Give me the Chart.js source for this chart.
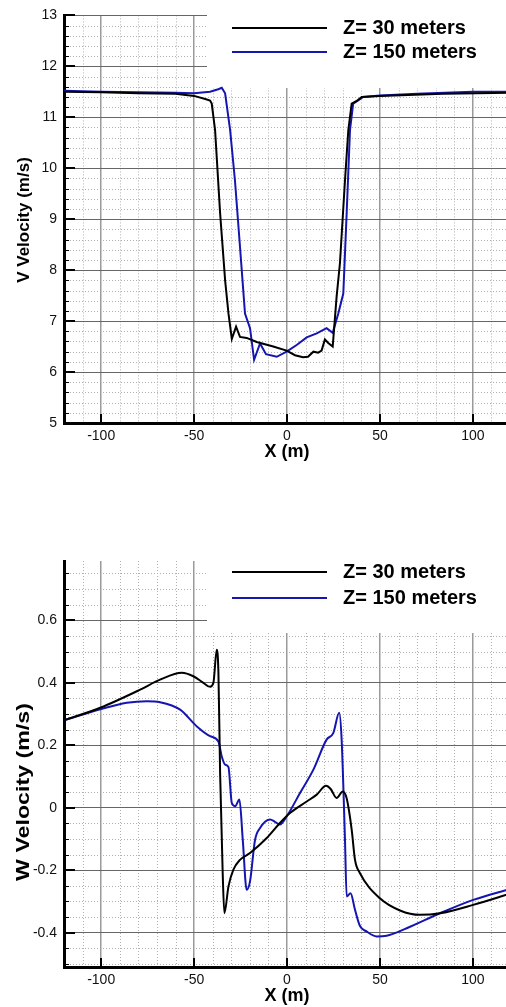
<!DOCTYPE html>
<html>
<head>
<meta charset="utf-8">
<script src="https://cdn.jsdelivr.net/npm/chart.js@4.4.1/dist/chart.umd.min.js"></script>
<style>
  html, body { margin: 0; padding: 0; background: #fff; overflow: hidden; width: 506px; height: 1007px; }
  canvas { position: absolute; left: 0; }
  #vChart { top: 0; }
  #wChart { top: 500px; }
</style>
</head>
<body>
<canvas id="vChart" width="510" height="470"></canvas>
<canvas id="wChart" width="510" height="507"></canvas>
<script>
const FONT = "'Liberation Sans', Arial, sans-serif";

const seriesLabels = ['Z= 30 meters', 'Z= 150 meters'];
const seriesColors = ['#000000', '#1515b0'];

const xTicks = [-100, -50, 0, 50, 100];
const vTicks = [5, 6, 7, 8, 9, 10, 11, 12, 13];
const wTicks = [-0.4, -0.2, 0, 0.2, 0.4, 0.6];

// V velocity, Z = 30 m
const vX30 = [-120, -100, -80, -60, -50, -44, -41.4, -40.5, -38.7, -36, -33.3, -31.5, -29.7, -27.4, -25.3, -21.7, -16.3, -7.4, -0.2, 4.3, 8.6, 11.3, 14.2, 16.8, 18.6, 20.4, 22.2, 24.6, 26.7, 28.5, 31.2, 33, 34.8, 37.5, 40.2, 50, 84, 120];
const vY30 = [11.5, 11.49, 11.47, 11.46, 11.42, 11.36, 11.33, 11.27, 10.75, 9.12, 7.8, 7.15, 6.65, 6.89, 6.69, 6.67, 6.59, 6.5, 6.42, 6.33, 6.29, 6.3, 6.4, 6.38, 6.42, 6.64, 6.57, 6.5, 7.48, 8.14, 9.76, 10.75, 11.27, 11.32, 11.4, 11.42, 11.46, 11.48];
// V velocity, Z = 150 m
const vX150 = [-120, -100, -80, -60, -50, -41.4, -37, -35.1, -33.3, -30.6, -28, -25.3, -22.6, -19.9, -17.7, -14.5, -11.3, -5.5, -0.2, 5.2, 10.6, 16, 21.3, 24.6, 27.6, 30.3, 32.1, 33.9, 35.6, 38.3, 41, 50, 70, 100, 120];
const vY150 = [11.52, 11.5, 11.49, 11.48, 11.47, 11.5, 11.55, 11.58, 11.47, 10.75, 9.76, 8.46, 7.15, 6.86, 6.24, 6.56, 6.35, 6.3, 6.4, 6.53, 6.68, 6.76, 6.86, 6.77, 7.15, 7.54, 9.11, 10.75, 11.27, 11.33, 11.4, 11.43, 11.46, 11.5, 11.5];

// W velocity, Z = 30 m
const wX30 = [-120, -100.5, -79, -68.3, -56.6, -50.4, -45, -41.4, -39.6, -37.8, -36.9, -36, -34.6, -33.7, -31.5, -28.9, -25.3, -19.9, -10.9, -3.8, 1.6, 10.6, 16, 21, 23.5, 26.7, 30, 32.1, 34.8, 36.6, 39.2, 50, 60.8, 71.5, 82.3, 100.2, 120];
const wY30 = [0.28, 0.32, 0.378, 0.41, 0.432, 0.421, 0.4, 0.387, 0.4, 0.506, 0.432, 0.112, -0.21, -0.338, -0.252, -0.199, -0.167, -0.145, -0.097, -0.049, -0.017, 0.02, 0.042, 0.07, 0.06, 0.031, 0.052, 0.03, -0.07, -0.167, -0.209, -0.29, -0.329, -0.343, -0.338, -0.311, -0.275];
// W velocity, Z = 150 m
const wX150 = [-120, -100.5, -86.2, -75.4, -68.3, -57.5, -48.5, -41.4, -36.9, -35.1, -33.3, -31.5, -29.7, -27.9, -25.6, -23.8, -21.7, -19.9, -17.2, -14.5, -9.1, -6.5, -3.8, -0.2, 7, 14.2, 21.3, 24.9, 28.1, 29.4, 31.2, 32.1, 34.2, 36.6, 39.2, 42.8, 48.2, 53.6, 64.4, 82.3, 100.2, 120];
const wY150 = [0.28, 0.315, 0.336, 0.341, 0.338, 0.314, 0.26, 0.229, 0.212, 0.164, 0.138, 0.13, 0.015, 0.005, 0.026, -0.103, -0.263, -0.236, -0.103, -0.065, -0.038, -0.045, -0.054, -0.028, 0.047, 0.122, 0.218, 0.239, 0.304, 0.218, -0.103, -0.284, -0.274, -0.327, -0.378, -0.396, -0.412, -0.41, -0.386, -0.338, -0.295, -0.26];

const pts = (xs, ys) => xs.map((x, i) => ({ x, y: ys[i] }));

// minor grid positions (dotted lines)
const xMinor = [];
for (let k = -12; k <= 12; k++) if (k % 5 !== 0) xMinor.push(k * 10);
const vMinor = [];
for (let k = 25; k <= 65; k++) if (k % 5 !== 0) vMinor.push(k * 0.2);
const wMinor = [];
for (let k = -10; k <= 15; k++) if (k % 4 !== 0) wMinor.push(k * 0.05);

const frame = {
  id: 'frame',
  beforeDraw(chart, args, o) {
    const { ctx, chartArea: a, scales: { x, y } } = chart;
    ctx.save();
    ctx.strokeStyle = '#b0b0b0';
    ctx.lineWidth = 1;
    ctx.setLineDash([1, 2]);
    ctx.beginPath();
    o.xMinor.forEach(v => {
      const px = Math.round(x.getPixelForValue(v)) + 0.5;
      ctx.moveTo(px, a.top); ctx.lineTo(px, a.bottom);
    });
    o.yMinor.forEach(v => {
      const py = Math.round(y.getPixelForValue(v)) + 0.5;
      ctx.moveTo(a.left, py); ctx.lineTo(a.right, py);
    });
    ctx.stroke();
    ctx.restore();
  },
  beforeDatasetsDraw(chart, args, o) {
    // legend backdrop hides the grid behind it
    const { ctx } = chart;
    ctx.save();
    ctx.fillStyle = '#fff';
    ctx.fillRect(o.boxLeft, 0, chart.width - o.boxLeft, o.boxBottom);
    ctx.restore();
  },
  afterDatasetsDraw(chart, args, o) {
    const { ctx, chartArea: a, scales: { x, y } } = chart;
    ctx.save();
    ctx.strokeStyle = '#000';
    // inside tick marks
    ctx.lineWidth = 2;
    ctx.beginPath();
    o.yMajor.forEach(v => {
      const py = Math.round(y.getPixelForValue(v));
      ctx.moveTo(a.left, py); ctx.lineTo(a.left + 11, py);
    });
    xTicks.forEach(v => {
      const px = Math.round(x.getPixelForValue(v));
      ctx.moveTo(px, a.bottom); ctx.lineTo(px, a.bottom - 9);
    });
    ctx.stroke();
    ctx.lineWidth = 1;
    ctx.beginPath();
    o.yMinor.forEach(v => {
      const py = Math.round(y.getPixelForValue(v)) + 0.5;
      ctx.moveTo(a.left, py); ctx.lineTo(a.left + 5, py);
    });
    ctx.stroke();

    // legend
    ctx.font = 'bold 20px ' + FONT;
    ctx.textBaseline = 'middle';
    ctx.textAlign = 'left';
    seriesLabels.forEach((lab, i) => {
      const ry = o.legendRows[i];
      ctx.strokeStyle = seriesColors[i];
      ctx.lineWidth = 2;
      ctx.beginPath();
      ctx.moveTo(232, ry); ctx.lineTo(327, ry);
      ctx.stroke();
      ctx.fillStyle = '#000';
      ctx.fillText(lab, 343, ry);
    });

    // y axis title
    ctx.translate(o.title.x, o.title.y);
    ctx.rotate(-Math.PI / 2);
    ctx.scale(o.title.stretch, 1);
    ctx.font = 'bold ' + o.title.size + 'px ' + FONT;
    ctx.textAlign = 'center';
    ctx.fillStyle = '#000';
    ctx.fillText(o.title.text, 0, 0);
    ctx.restore();
  }
};

function makeChart(id, cfg) {
  return new Chart(document.getElementById(id), {
    type: 'line',
    data: {
      datasets: cfg.series.map((s, i) => ({
        label: seriesLabels[i],
        data: s,
        borderColor: seriesColors[i],
        borderWidth: 2,
        pointRadius: 0,
        cubicInterpolationMode: cfg.smooth ? 'monotone' : 'default',
        tension: 0,
        fill: false
      }))
    },
    options: {
      responsive: false,
      animation: false,
      devicePixelRatio: 1,
      layout: { padding: { top: cfg.padTop, bottom: cfg.padBottom, left: 0, right: 0 } },
      plugins: {
        legend: { display: false },
        tooltip: { enabled: false },
        frame: {
          xMinor: xMinor,
          yMinor: cfg.yMinor,
          yMajor: cfg.yTicks,
          boxLeft: 207,
          boxBottom: cfg.boxBottom,
          legendRows: cfg.legendRows,
          title: cfg.title
        }
      },
      scales: {
        x: {
          type: 'linear',
          min: -120,
          max: 120,
          afterBuildTicks: s => { s.ticks = xTicks.map(v => ({ value: v })); },
          afterFit: s => { s.height = cfg.xHeight; },
          grid: { color: '#9a9a9a', lineWidth: 1.5, drawTicks: false },
          border: { color: '#000', width: 3 },
          ticks: { color: '#111', font: { family: FONT, size: 14 }, padding: 5, maxRotation: 0 },
          title: { display: true, text: 'X (m)', color: '#000', font: { family: FONT, size: 18, weight: 'bold' }, padding: 0 }
        },
        y: {
          type: 'linear',
          min: cfg.yMin,
          max: cfg.yMax,
          afterBuildTicks: s => { s.ticks = cfg.yTicks.map(v => ({ value: v })); },
          afterFit: s => { s.width = 64; },
          grid: { color: '#666', lineWidth: 1, drawTicks: false },
          border: { color: '#000', width: 3 },
          ticks: { color: '#111', font: { family: FONT, size: 14 }, padding: 7, callback: cfg.fmt }
        }
      }
    },
    plugins: [frame]
  });
}

makeChart('vChart', {
  series: [pts(vX30, vY30), pts(vX150, vY150)],
  smooth: false,
  yMin: 5, yMax: 13, yTicks: vTicks, yMinor: vMinor,
  fmt: v => String(v),
  padTop: 15, padBottom: 7, xHeight: 40,
  boxBottom: 88,
  legendRows: [28, 52],
  title: { text: 'V Velocity (m/s)', x: 24, y: 220, size: 17, stretch: 1 }
});

makeChart('wChart', {
  series: [pts(wX30, wY30), pts(wX150, wY150)],
  smooth: true,
  yMin: -0.51, yMax: 0.79, yTicks: wTicks, yMinor: wMinor,
  fmt: v => (v === 0 ? '0' : v.toFixed(1)),
  padTop: 61, padBottom: 0, xHeight: 40,
  boxBottom: 133,
  legendRows: [72, 98],
  title: { text: 'W Velocity (m/s)', x: 24, y: 292, size: 19, stretch: 1.22 }
});
</script>
</body>
</html>
